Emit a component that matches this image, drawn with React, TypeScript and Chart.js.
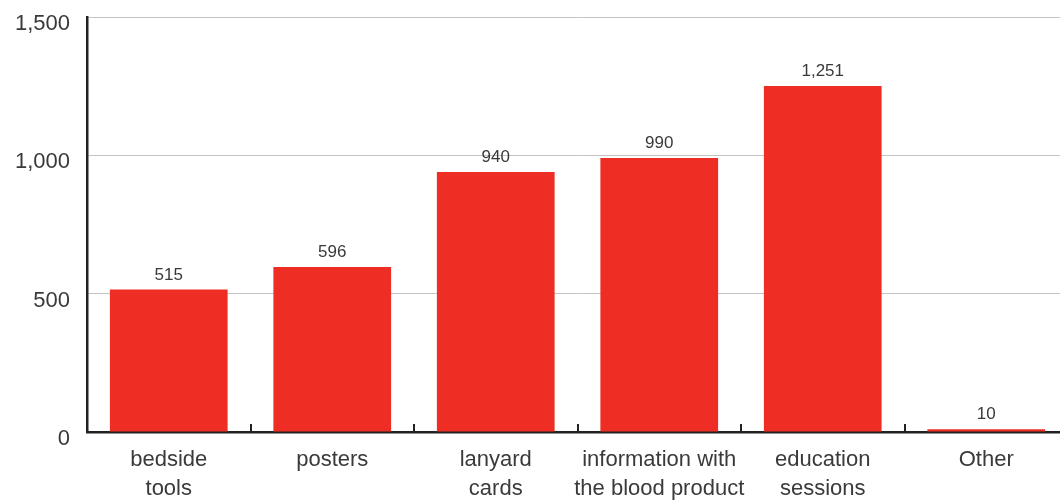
import React, { useEffect, useRef } from "react";
import { Chart, registerables } from "chart.js";

Chart.register(...registerables);

const categories: (string | string[])[] = [
  ["bedside", "tools"],
  "posters",
  ["lanyard", "cards"],
  ["information with", "the blood product"],
  ["education", "sessions"],
  "Other",
];
const values = [515, 596, 940, 990, 1251, 10];
const yTicks = [0, 500, 1000, 1500];

const FONT = "'Liberation Sans', Arial, sans-serif";

const extras = {
  id: "extras",
  afterDatasetsDraw(chart: any) {
    const ctx = chart.ctx;
    const meta = chart.getDatasetMeta(0);
    ctx.save();
    ctx.fillStyle = "#3a3a3a";
    ctx.font = `17px ${FONT}`;
    ctx.textAlign = "center";
    ctx.textBaseline = "bottom";
    meta.data.forEach((bar: any, i: number) => {
      ctx.fillText(values[i].toLocaleString("en-US"), bar.x, bar.y - 6);
    });
    // inward x ticks at category boundaries
    const xs = chart.scales.x;
    const bottom = chart.chartArea.bottom;
    ctx.strokeStyle = "#222";
    ctx.lineWidth = 2;
    for (let i = 1; i < categories.length; i++) {
      const px = Math.round((xs.getPixelForValue(i - 1) + xs.getPixelForValue(i)) / 2);
      ctx.beginPath();
      ctx.moveTo(px, bottom);
      ctx.lineTo(px, bottom - 8);
      ctx.stroke();
    }
    ctx.restore();
  },
};

export default function App() {
  const ref = useRef<HTMLCanvasElement>(null);
  useEffect(() => {
    document.body.style.margin = "0";
    document.body.style.overflow = "hidden";
    document.documentElement.style.overflow = "hidden";
    const chart = new Chart(ref.current!, {
      type: "bar",
      data: {
        labels: categories,
        datasets: [
          {
            data: values,
            backgroundColor: "#EE2E24",
            categoryPercentage: 1,
            barPercentage: 0.72,
          },
        ],
      },
      options: {
        responsive: false,
        animation: false,
        layout: { padding: { top: 17, right: 0, left: 0, bottom: 0 } },
        plugins: { legend: { display: false }, tooltip: { enabled: false } },
        scales: {
          x: {
            grid: { display: false, drawTicks: false },
            border: { display: true, color: "#222", width: 2.5 },
            ticks: {
              color: "#3a3a3a",
              font: { family: FONT, size: 22, lineHeight: 1.3 },
              padding: 14,
              maxRotation: 0,
              autoSkip: false,
            },
            afterFit(scale: any) {
              scale.height = 70;
              scale.paddingLeft = 0;
              scale.paddingRight = 0;
            },
          },
          y: {
            min: 0,
            max: 1500,
            afterBuildTicks(scale: any) {
              scale.ticks = yTicks.map((v) => ({ value: v }));
            },
            grid: { color: "#c4c4c4", lineWidth: 1, drawTicks: false },
            border: { display: true, color: "#222", width: 2.5 },
            ticks: {
              color: "#3a3a3a",
              font: { family: FONT, size: 22 },
              padding: 17,
              labelOffset: 7,
              callback: (v: any) => Number(v).toLocaleString("en-US"),
            },
            afterFit(scale: any) {
              scale.width = 87;
              scale.paddingTop = 0;
              scale.paddingBottom = 0;
            },
          },
        },
      },
      plugins: [extras],
    });
    return () => chart.destroy();
  }, []);
  return (
    <div style={{ width: 1060, height: 502, overflow: "hidden", background: "#fff" }}>
      <canvas ref={ref} width={1068} height={502} />
    </div>
  );
}
